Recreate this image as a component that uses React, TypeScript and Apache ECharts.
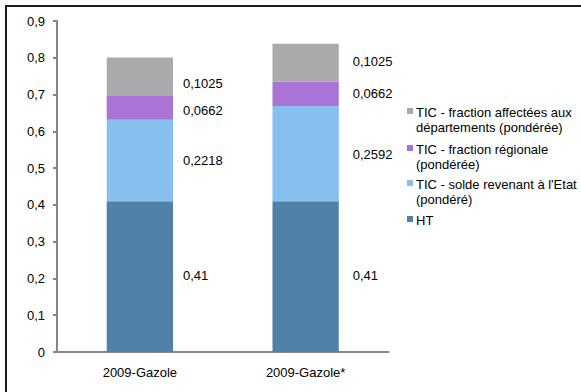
import React, { useEffect, useRef } from "react";
import * as echarts from "echarts";

const categories = ["2009-Gazole", "2009-Gazole*"];
const seriesNames = [
  "HT",
  "TIC - solde revenant à l'Etat\n(pondéré)",
  "TIC - fraction régionale\n(pondérée)",
  "TIC - fraction affectées aux\ndépartements (pondérée)",
];
const htValues = [0.41, 0.41];
const soldeValues = [0.2218, 0.2592];
const regionaleValues = [0.0662, 0.0662];
const departementsValues = [0.1025, 0.1025];
const seriesColors = ["#5082a8", "#87bfef", "#aa73d6", "#a9aaac"];
const yTicks = [0, 0.1, 0.2, 0.3, 0.4, 0.5, 0.6, 0.7, 0.8, 0.9];

const FONT = "'Liberation Sans', Arial, sans-serif";
const FS = 13;

export default function App() {
  const ref = useRef<HTMLDivElement>(null);
  useEffect(() => {
    if (!ref.current) return;
    const chart = echarts.init(ref.current, undefined, { renderer: "svg" });
    const allValues = [htValues, soldeValues, regionaleValues, departementsValues];
    // per-segment label offsets (Excel placement)
    const labelOffsets = [
      [[0, -1], [4, -1]],
      [[0, 0], [4, 1]],
      [[0, 3], [4, 0]],
      [[0, 7], [4, -1]],
    ];
    const series = allValues.map((vals, si) => ({
      name: seriesNames[si],
      type: "bar",
      stack: "total",
      barWidth: "40%",
      itemStyle: { color: seriesColors[si] },
      data: vals.map((v, ci) => ({
        value: v,
        label: {
          show: true,
          position: "right",
          distance: 10,
          offset: labelOffsets[si][ci],
          formatter: () => String(v).replace(".", ","),
          color: "#000",
          fontFamily: FONT,
          fontSize: FS,
        },
      })),
    }));

    const legendTop = [112, 149, 184, 220];
    const legendOrder = [3, 2, 1, 0];
    const legendGraphics: any[] = [];
    legendOrder.forEach((si, i) => {
      const cy = legendTop[i];
      legendGraphics.push({
        type: "rect",
        shape: { x: 407, y: cy - 4, width: 6, height: 6 },
        style: { fill: seriesColors[si] },
      });
      legendGraphics.push({
        type: "text",
        x: 416,
        y: cy - 7.75,
        style: {
          text: seriesNames[si],
          fill: "#000",
          font: `${FS}px ${FONT}`,
          lineHeight: 15.5,
          verticalAlign: "top",
          align: "left",
        },
      });
    });

    chart.setOption({
      animation: false,
      backgroundColor: "#fff",
      grid: { left: 57, top: 21, right: 192.5, bottom: 40 },
      xAxis: {
        type: "category",
        data: categories,
        axisLine: { lineStyle: { color: "#878787", width: 2 } },
        axisTick: { show: false },
        axisLabel: { color: "#000", fontFamily: FONT, fontSize: FS, margin: 14 },
      },
      yAxis: {
        type: "value",
        min: 0,
        max: 0.9,
        interval: 0.1,
        axisLine: { show: true, lineStyle: { color: "#878787", width: 2 } },
        axisTick: { show: true, length: 4, lineStyle: { color: "#878787", width: 2 } },
        splitLine: { show: false },
        axisLabel: {
          color: "#000",
          fontFamily: FONT,
          fontSize: FS,
          margin: 12,
          formatter: (v: number) => {
            const t = yTicks.find((x) => Math.abs(x - v) < 1e-9);
            return String(t !== undefined ? t : v).replace(".", ",");
          },
        },
      },
      series,
      graphic: [
        {
          type: "rect",
          shape: { x: 6, y: 6, width: 800, height: 600 },
          style: { fill: "none", stroke: "#1a1a1a", lineWidth: 2 },
          z: 100,
        },
        ...legendGraphics,
      ],
    });
    return () => chart.dispose();
  }, []);
  return (
    <div
      ref={ref}
      style={{ position: "fixed", left: 0, top: 0, width: 581, height: 392 }}
    />
  );
}
